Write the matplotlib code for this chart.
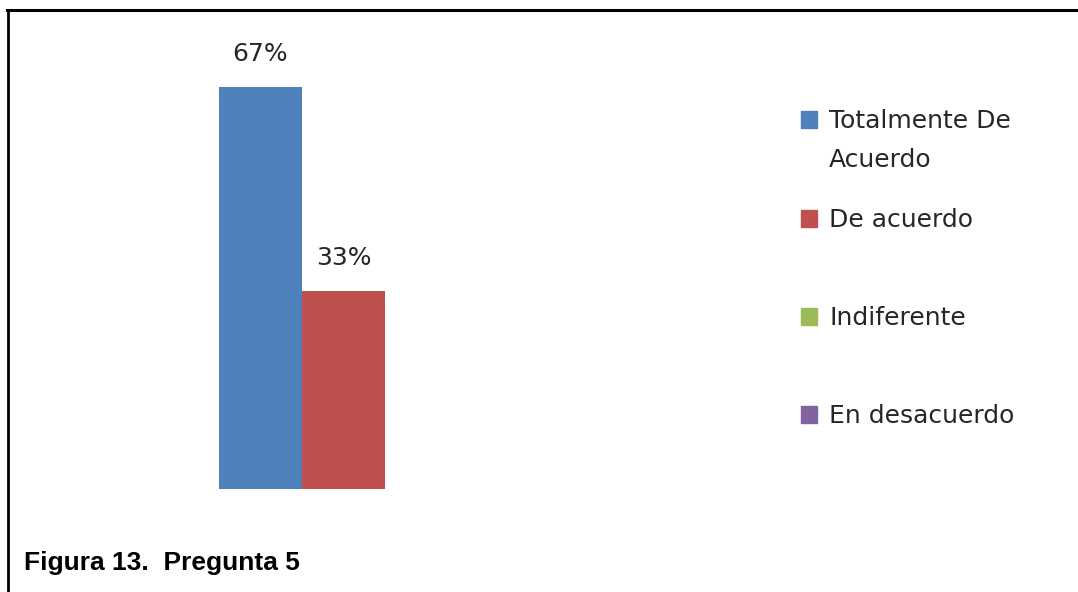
import matplotlib
matplotlib.use("Agg")
import matplotlib.pyplot as plt
from matplotlib.patches import Rectangle
from matplotlib.lines import Line2D

# Survey answers for question 5 (percent of respondents)
labels = ["Totalmente De\nAcuerdo", "De acuerdo", "Indiferente", "En desacuerdo"]
values = [67, 33, 0, 0]
colors = ["#4F81BD", "#C0504D", "#9BBB59", "#8064A2"]
caption = "Figura 13.  Pregunta 5"

W, H = 1078, 592
fig = plt.figure(figsize=(W / 100, H / 100), dpi=100)


def fx(px):
    return px / W


def fy(py):
    return 1 - py / H


# Plot area: baseline at y=489 px, 6 px per percentage point
ax_left, ax_right, ax_top, ax_bottom = 30, 740, 30, 489
ax = fig.add_axes([fx(ax_left), fy(ax_bottom), fx(ax_right - ax_left),
                   (ax_bottom - ax_top) / H])
ax.set_xlim(-0.5, 0.5)
ax.set_ylim(0, (ax_bottom - ax_top) / 6.0)
ax.axis("off")

bar_w = 83 / (ax_right - ax_left)
n = len(values)
for i, (v, c) in enumerate(zip(values, colors)):
    xpos = (i - (n - 1) / 2) * bar_w
    ax.bar(xpos, v, width=bar_w, color=c, linewidth=0)
    if v > 0:
        ax.annotate(f"{v}%", (xpos, v), xytext=(0, 15), textcoords="offset points",
                    ha="center", va="bottom", fontsize=18, color="#262626",
                    family="DejaVu Sans")

# Legend drawn as squares plus text, one entry per series
baselines = [128, 227, 325, 423]
line_step = 39
for lab, c, b in zip(labels, colors, baselines):
    fig.patches.append(Rectangle((fx(801), fy(b)), fx(16), 17 / H, color=c,
                                 transform=fig.transFigure, figure=fig))
    for k, line in enumerate(lab.split("\n")):
        fig.text(fx(829), fy(b + k * line_step), line, ha="left", va="baseline",
                 fontsize=18, color="#262626", family="DejaVu Sans")

# Frame lines along the top and left edge
fig.add_artist(Line2D([fx(7), 1], [fy(10), fy(10)], color="black", lw=2.2,
                      transform=fig.transFigure))
fig.add_artist(Line2D([fx(8), fx(8)], [fy(10), 0], color="black", lw=2.0,
                      transform=fig.transFigure))

fig.text(fx(24), fy(570), caption, ha="left", va="baseline", fontsize=19,
         fontweight="bold", family="Liberation Sans", color="black")

fig.savefig("out.png", dpi=100, facecolor="white")
